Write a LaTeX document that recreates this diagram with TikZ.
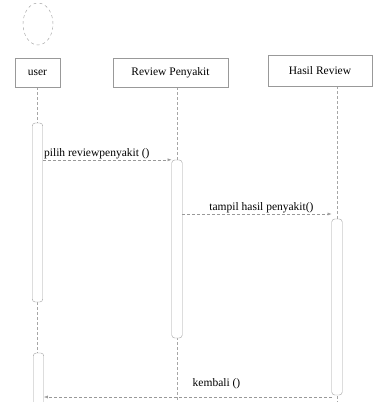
\documentclass[tikz,border=0pt]{standalone}
\usepackage{fontspec}
\setmainfont{Liberation Serif}
\usetikzlibrary{shapes.geometric,arrows.meta,positioning,backgrounds}

\tikzset{
	actorhead/.style = {ellipse, draw=gray!80, dashed, minimum width=30pt, minimum height=42pt, inner sep=0pt},
	lifebox/.style = {rectangle, draw=gray!80, fill=white, minimum height=29pt, inner sep=0pt, text=black},
	lifeline/.style = {draw=gray!70, densely dashed, thin},
	actbar/.style = {rectangle, draw=gray!75, fill=white, rounded corners=3pt, minimum width=10.5pt, inner sep=0pt},
	msg/.style = {draw=gray!80, densely dashed, thin, -{Latex[length=4pt,width=3pt]}},
	msglabel/.style = {inner sep=1pt, text=black}
}

\begin{document}
\begin{tikzpicture}[x=1pt, y=-1pt, font=\rmfamily\fontsize{11.5}{13}\selectfont]
		\useasboundingbox (0,0) rectangle (373,402);
		
		% objects
		\node [actorhead] (actor) at (38,24) {};
		\node [lifebox, minimum width=45pt] (user) at (37.5,72.5) {user};
		\node [lifebox, minimum width=115pt] (rp) at (170.5,72.5) {Review Penyakit};
		\node [lifebox, minimum width=104pt, minimum height=31pt] (hr) at (320,70.5) {Hasil Review};
		
		% activation bars
		\coordinate (bottom) at (0,402);
		\node [actbar, minimum height=179pt] (ua1) at (37.5,212.5) {};
		\node [actbar, minimum height=54pt] (ua2) at (38.5,380) {};
		\node [actbar, minimum height=178pt] (rb) at (177,249) {};
		\node [actbar, minimum height=176pt] (hb) at (337,307) {};
		
		% lifelines
		\begin{scope}[on background layer]
		\path [lifeline] (user.south) -- (user.south |- bottom);
		\path [lifeline] (rb |- rp.south) -- (rb |- bottom);
		\path [lifeline] (hb |- hr.south) -- (hb |- bottom);
		\end{scope}
		
		% messages
		\coordinate (m2) at (0,214);
		\coordinate (m3) at (0,397);
		\path [msg] (ua1.east |- rb.north) -- (rb.west |- rb.north)
			node [msglabel, above right, pos=0] {pilih reviewpenyakit ()};
		\path [msg] (rb.east |- m2) -- (hb.west |- m2)
			node [msglabel, above, pos=0.53] {tampil hasil penyakit()};
		\path [msg] (hb.west |- m3) -- (ua2.east |- m3)
			node [msglabel, above, pos=0.4, yshift=7pt] {kembali ()};
		
	\end{tikzpicture}
\end{document}
